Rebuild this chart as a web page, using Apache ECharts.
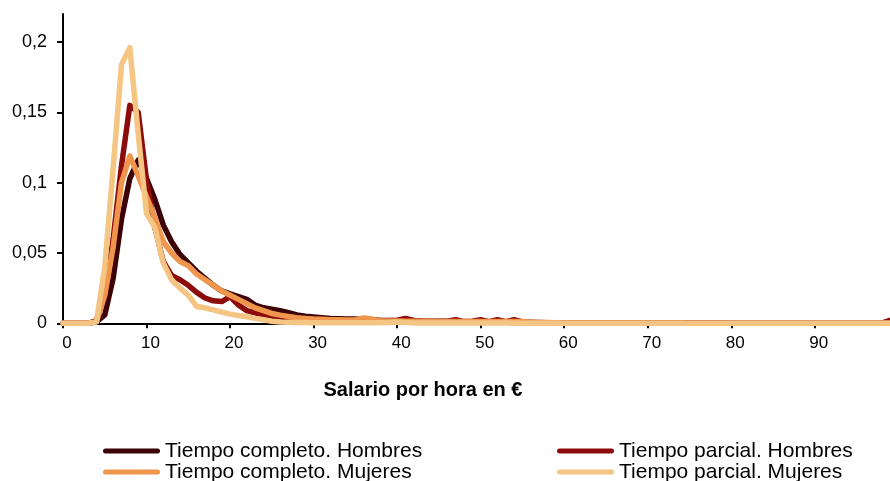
<!DOCTYPE html>
<html><head><meta charset="utf-8">
<script src="https://cdn.jsdelivr.net/npm/echarts@6/dist/echarts.min.js"></script>
<style>html,body{margin:0;padding:0;background:#fff}#c{width:890px;height:481px}</style>
</head><body><div id="c"></div>
<script>
// Hourly wage (euros) categories
const wages = [0,1,2,3,4,5,6,7,8,9,10,11,12,13,14,15,16,17,18,19,20,21,22,23,24,25,26,27,28,29,
  30,31,32,33,34,35,36,37,38,39,40,41,42,43,44,45,46,47,48,49,50,51,52,53,54,55,56,57,58,59,
  60,61,62,63,64,65,66,67,68,69,70,71,72,73,74,75,76,77,78,79,80,81,82,83,84,85,86,87,88,89,
  90,91,92,93,94,95,96,97,98,99];

const completoHombres = [0,0,0,0,0.001,0.006,0.032,0.074,0.103,0.116,
  0.103,0.088,0.07,0.058,0.049,0.043,0.037,0.032,0.027,0.023,
  0.021,0.019,0.017,0.013,0.011,0.01,0.009,0.0075,0.006,0.005,
  0.0045,0.004,0.0035,0.0032,0.003,0.003,0.0028,0.0025,0.0021,0.002,
  0.0018,0.0016,0.0015,0.0014,0.0013,0.0012,0.0012,0.0011,0.001,0.001,
  0.0009,0.0008,0.0007,0.0007,0.0006,0.0005,0.0005,0.0004,0.0004,0.0003,
  0.0003,0.0003,0.0003,0.0003,0.0003,0.0003,0.0003,0.0003,0.0003,0.0003,
  0.0002,0.0002,0.0002,0.0002,0.0002,0.0002,0.0002,0.0002,0.0002,0.0002,
  0.0001,0.0001,0.0001,0.0001,0.0001,0.0001,0.0001,0.0001,0.0001,0.0001,
  0.0001,0.0001,0.0001,0.0001,0.0001,0.0001,0.0001,0.0001,0.0001,0.0001];

const parcialHombres = [0,0,0,0,0.002,0.02,0.06,0.112,0.155,0.15,
  0.102,0.068,0.044,0.034,0.031,0.027,0.022,0.018,0.016,0.0155,
  0.019,0.013,0.009,0.0075,0.006,0.005,0.0045,0.004,0.0035,0.003,
  0.003,0.0028,0.0026,0.0024,0.0022,0.002,0.002,0.0018,0.0018,0.0018,
  0.0022,0.0035,0.002,0.0016,0.0015,0.0015,0.0015,0.0025,0.0012,0.0015,
  0.0025,0.0012,0.0025,0.0012,0.0025,0.001,0.0006,0.0005,0.0004,0.0003,
  0.0002,0.0002,0.0002,0.0002,0.0002,0.0002,0.0002,0.0002,0.0002,0.0002,
  0.0002,0.0002,0.0002,0.0002,0.0002,0.0002,0.0002,0.0002,0.0002,0.0002,
  0.0001,0.0001,0.0001,0.0001,0.0001,0.0001,0.0001,0.0001,0.0001,0.0001,
  0.0001,0.0001,0.0001,0.0001,0.0001,0.0001,0.0001,0.0001,0.0001,0.002];

const completoMujeres = [0,0,0,0,0.001,0.02,0.054,0.1,0.119,0.105,
  0.09,0.075,0.058,0.05,0.044,0.041,0.035,0.031,0.027,0.023,
  0.02,0.017,0.014,0.011,0.009,0.007,0.0058,0.0048,0.004,0.0035,
  0.003,0.0028,0.0026,0.0025,0.0024,0.0026,0.0038,0.003,0.0018,0.0016,
  0.0016,0.0015,0.0015,0.0014,0.0014,0.0013,0.0013,0.0013,0.0012,0.0012,
  0.0012,0.0012,0.0012,0.0012,0.0012,0.0012,0.0008,0.0006,0.0005,0.0004,
  0.0003,0.0003,0.0003,0.0003,0.0003,0.0002,0.0002,0.0002,0.0002,0.0002,
  0.0002,0.0002,0.0002,0.0002,0.0002,0.0001,0.0001,0.0001,0.0001,0.0001,
  0.0001,0.0001,0.0001,0.0001,0.0001,0.0001,0.0001,0.0001,0.0001,0.0001,
  0.0001,0.0001,0.0001,0.0001,0.0001,0.0001,0.0001,0.0001,0.0001,0.0001];

const parcialMujeres = [0,0,0,0,0.001,0.04,0.11,0.184,0.196,0.135,
  0.078,0.068,0.043,0.031,0.025,0.02,0.012,0.011,0.0095,0.008,
  0.0065,0.0055,0.0047,0.0035,0.0025,0.0015,0.001,0.0008,0.0006,0.0005,
  0.0004,0.0004,0.0004,0.0004,0.0004,0.0004,0.0004,0.0004,0.0004,0.0005,
  0.001,0.0006,0.0003,0.0002,0.0002,0.0002,0.0002,0.0002,0.0002,0.0002,
  0.0002,0.0002,0.0002,0.0002,0.0002,0.0001,0.0001,0.0001,0.0001,0.0001,
  0,0,0,0,0,0,0,0,0,0,
  0,0,0,0,0,0,0,0,0,0,
  0,0,0,0,0,0,0,0,0,0,
  0,0,0,0,0,0,0,0,0,0];

const xTicks = [0,10,20,30,40,50,60,70,80,90];
const yTicks = [0,0.05,0.1,0.15,0.2];

const seriesNames = ['Tiempo completo. Hombres','Tiempo parcial. Hombres','Tiempo completo. Mujeres','Tiempo parcial. Mujeres'];
const seriesData = [completoHombres, parcialHombres, completoMujeres, parcialMujeres];
const colors = ['#3d0206','#8c0b0b','#ef954c','#f5c584'];

const FONT = '"Liberation Sans", Arial, sans-serif';
const pill = 'path://M2.5,0 L54.5,0 A2.5,2.5 0 0 1 54.5,5 L2.5,5 A2.5,2.5 0 0 1 2.5,0 Z';

const chart = echarts.init(document.getElementById('c'), null, {renderer:'canvas'});
const legendPos = [[103, 440.5], [557, 440.5], [103, 461.5], [557, 461.5]];
const legends = seriesNames.map((n, i) => ({
  orient: 'horizontal', left: legendPos[i][0], top: legendPos[i][1],
  itemWidth: 57, itemHeight: 5, itemGap: 0, padding: 0,
  icon: pill, selectedMode: false, data: [n],
  textStyle: { fontFamily: FONT, fontSize: 21, lineHeight: 21, color: '#000' }
}));
chart.setOption({
  animation: false,
  backgroundColor: '#fff',
  color: colors,
  grid: { left: 63, right: 0, top: 14, bottom: 157.7, containLabel: false },
  xAxis: {
    type: 'value', min: 0, max: 99,
    axisLine: { show: true, onZero: false, lineStyle: { color: '#000', width: 2 } },
    axisTick: { show: true, length: 5, lineStyle: { color: '#000', width: 2 }, customValues: xTicks },
    axisLabel: { customValues: xTicks, margin: 12, color: '#000', fontFamily: FONT, fontSize: 17, padding: [0,0,0,8] },
    splitLine: { show: false }
  },
  yAxis: {
    type: 'value', min: 0, max: 0.22,
    axisLine: { show: true, lineStyle: { color: '#000', width: 2 } },
    axisTick: { show: true, length: 6, lineStyle: { color: '#000', width: 2 }, customValues: yTicks },
    axisLabel: { customValues: yTicks, margin: 16, color: '#000', fontFamily: FONT, fontSize: 18,
      formatter: v => String(+v.toFixed(2)).replace('.', ',') },
    splitLine: { show: false }
  },
  legend: legends,
  graphic: [{
    type: 'text', x: 423, y: 390,
    style: { text: 'Salario por hora en €', fontFamily: FONT, fontWeight: 'bold', fontSize: 20,
      fill: '#000', textAlign: 'center', textVerticalAlign: 'middle' }
  }],
  series: seriesNames.map((n, i) => ({
    name: n, type: 'line', showSymbol: false, symbol: 'none', smooth: false,
    data: wages.map((w, k) => [w, seriesData[i][k]]),
    lineStyle: { width: 5.5, color: colors[i], cap: 'round', join: 'round' },
    itemStyle: { color: colors[i] },
    emphasis: { disabled: true }
  }))
});
</script></body></html>
